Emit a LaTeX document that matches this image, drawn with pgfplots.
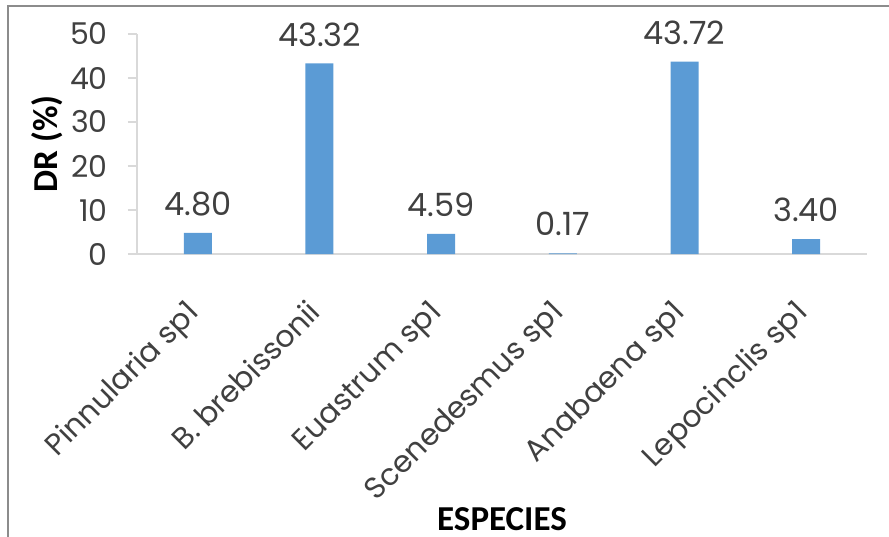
\documentclass[border=0pt]{standalone}
\usepackage{fontspec}
\setmainfont{Poppins}
\newfontfamily\calib{Carlito}
\usepackage{pgfplots}
\usetikzlibrary{calc}
\pgfplotsset{compat=1.18}
\definecolor{barblue}{HTML}{5B9BD5}
\definecolor{axgray}{HTML}{D9D9D9}
\definecolor{txt}{HTML}{404040}
\begin{document}
\begin{tikzpicture}
\begin{axis}[
  name=ax,
  scale only axis, width=730pt, height=220pt,
  xmin=-0.5, xmax=5.5, ymin=0, ymax=50,
  ytick={0,10,...,50}, xtick={0,...,5},
  xticklabels={Pinnularia sp1, B. brebissonii, Euastrum sp1, Scenedesmus sp1, Anabaena sp1, Lepocinclis sp1},
  axis x line*=bottom, axis y line*=left,
  axis line style={axgray, line width=1.2pt, -},
  x tick style={draw=none},
  y tick style={axgray, line width=1.2pt},
  tick align=outside, major tick length=9pt,
  /pgf/number format/assume math mode=true,
  tick label style={font=\fontsize{30}{30}\selectfont, color=txt},
  yticklabel style={inner sep=0pt, xshift=-20pt, anchor=east},
  xticklabel style={rotate=45, anchor=north east, font=\fontsize{30}{30}\selectfont, inner sep=0pt, yshift=-15pt, xshift=-34pt},
  ylabel={DR (\%)}, xlabel={ESPECIES},
  label style={font=\calib\bfseries\fontsize{35}{35}\selectfont, color=black},
  ylabel style={at={(axis description cs:-0.1233,0.5)}, anchor=center, rotate=0},
  xlabel style={at={(axis description cs:0.5,-1.205)}, anchor=center},
  ybar, bar width=28pt,
  nodes near coords, point meta=explicit symbolic,
  every node near coord/.append style={font=\fontsize{32}{32}\selectfont, color=txt, anchor=south, inner sep=0pt, yshift=17pt},
]
\addplot[fill=barblue, draw=none] coordinates {
  (0,4.80) [4.80]
  (1,43.32) [43.32]
  (2,4.59) [4.59]
  (3,0.17) [0.17]
  (4,43.72) [43.72]
  (5,3.40) [3.40]
};
\end{axis}
\draw[color=black!45, line width=1.2pt] ($(ax.south west)+(-129pt,-290pt)$) -- ($(ax.south west)+(-129pt,248pt)$) -- ($(ax.south west)+(760pt,248pt)$);
\pgfresetboundingbox
\useasboundingbox ($(ax.south west)+(-137pt,-282pt)$) rectangle ($(ax.south west)+(752pt,254pt)$);
\end{tikzpicture}
\end{document}
